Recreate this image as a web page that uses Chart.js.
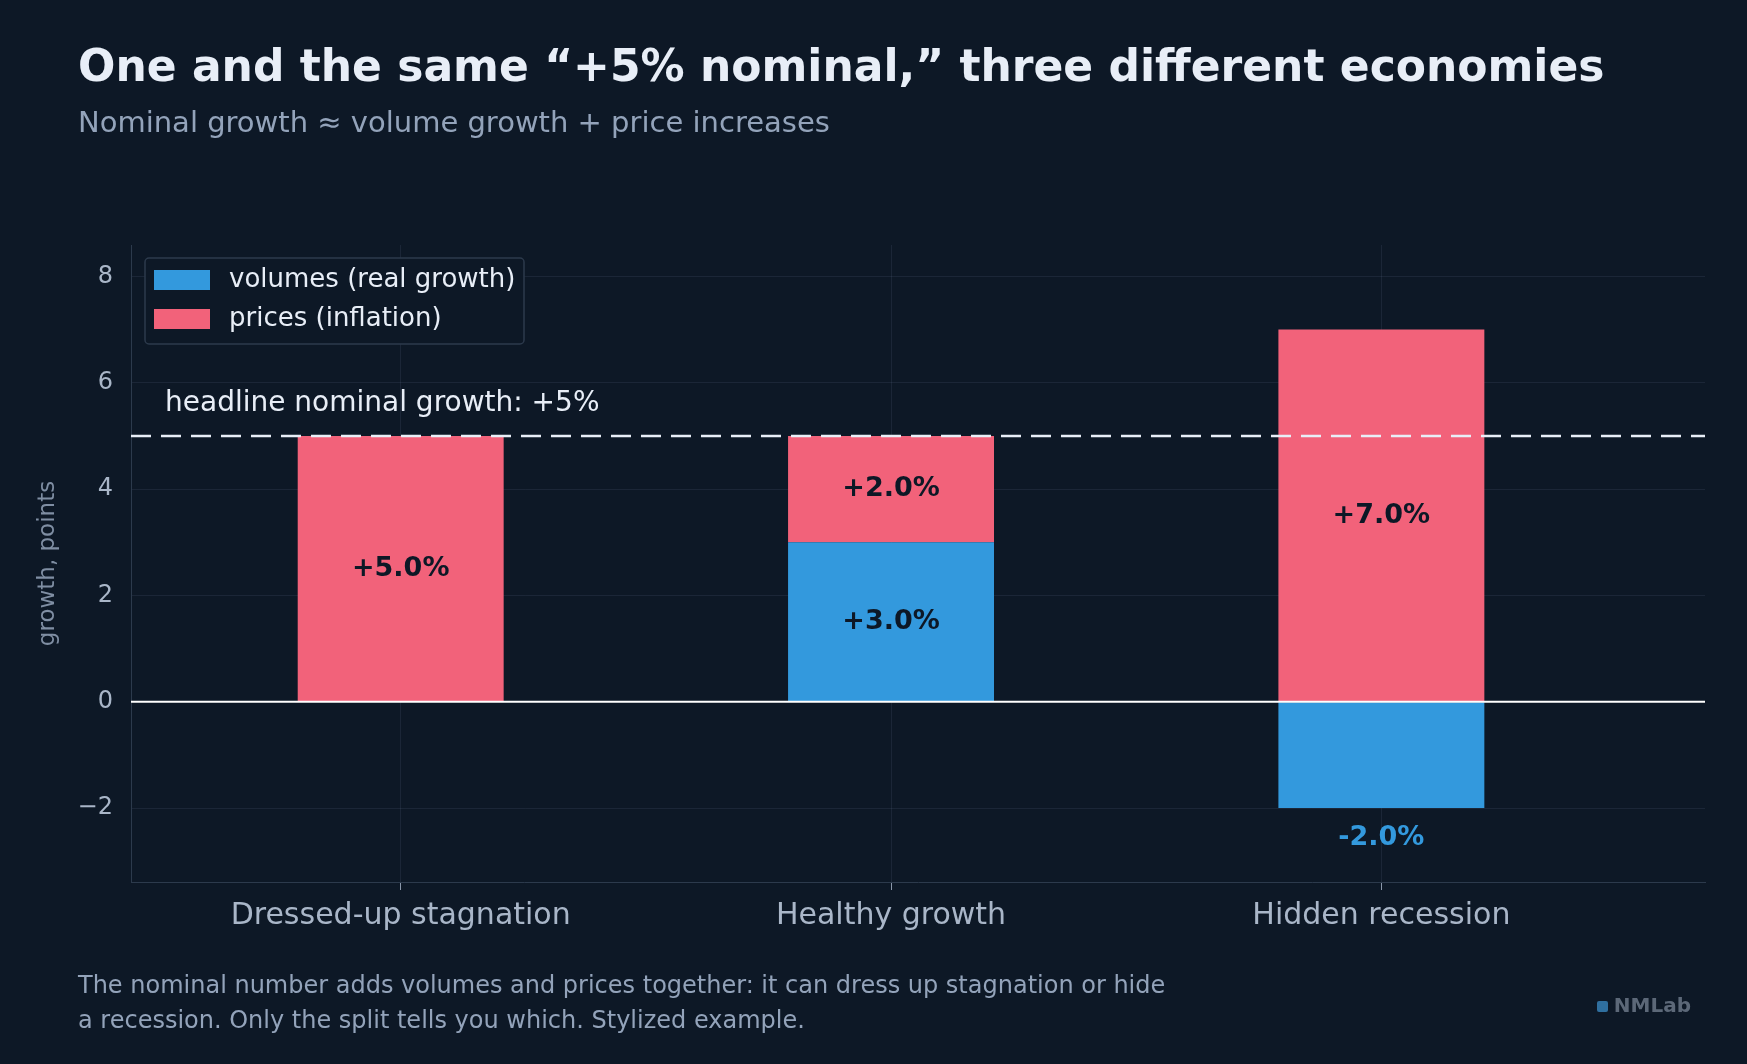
<!DOCTYPE html>
<html><head><meta charset="utf-8">
<script src="https://cdn.jsdelivr.net/npm/chart.js@4"></script>
<style>
  body{margin:0;background:#0d1826;font-family:"DejaVu Sans",sans-serif;overflow:hidden}
  #wrap{position:relative;width:1747px;height:1064px}
  canvas{position:absolute;left:0;top:0}
  .t{position:absolute;left:78px;white-space:nowrap}
  #title{top:40px;font-size:44px;font-weight:bold;color:#e8eef7}
  #sub{top:105px;font-size:29px;color:#93a3ba}
  #foot{top:968px;font-size:24px;line-height:35px;color:#93a3ba}
  #brand{position:absolute;right:56px;top:993px;font:bold 20px "DejaVu Sans";color:#5c6878}
  #brand span{display:inline-block;width:11px;height:11px;background:#2f6f9f;border-radius:2px;margin-right:6px}
</style></head><body>
<div id="wrap">
  <canvas id="c" width="1747" height="1064"></canvas>
  <div class="t" id="title">One and the same “+5% nominal,” three different economies</div>
  <div class="t" id="sub">Nominal growth ≈ volume growth + price increases</div>
  <div class="t" id="foot">The nominal number adds volumes and prices together: it can dress up stagnation or hide<br>a recession. Only the split tells you which. Stylized example.</div>
  <div id="brand"><span></span>NMLab</div>
</div>
<script>
const categories = ['Dressed-up stagnation', 'Healthy growth', 'Hidden recession'];
const volumes = [0, 3, -2];
const prices = [5, 2, 7];
const headline = 5;
const yTicks = [-2, 0, 2, 4, 6, 8];

const BLUE = '#3399dd', RED = '#f2627a';
const fmt = v => (v > 0 ? '+' : '') + v.toFixed(1) + '%';

const overlay = {
  id: 'overlay',
  afterDatasetsDraw(chart) {
    const { ctx, chartArea: a, scales: { x, y } } = chart;
    ctx.save();
    ctx.strokeStyle = '#ffffff'; ctx.lineWidth = 2.2;
    ctx.beginPath(); ctx.moveTo(a.left, y.getPixelForValue(0)); ctx.lineTo(a.right, y.getPixelForValue(0)); ctx.stroke();
    const hy = y.getPixelForValue(headline);
    ctx.strokeStyle = '#e8eef7'; ctx.lineWidth = 2.5; ctx.setLineDash([20, 10]);
    ctx.beginPath(); ctx.moveTo(a.left, hy); ctx.lineTo(a.right, hy); ctx.stroke();
    ctx.setLineDash([]);
    ctx.fillStyle = '#e8eef7'; ctx.font = '28px "DejaVu Sans"';
    ctx.textAlign = 'left'; ctx.textBaseline = 'middle';
    ctx.fillText('headline nominal growth: +5%', 165, y.getPixelForValue(5.6));
    ctx.font = 'bold 27px "DejaVu Sans"'; ctx.textAlign = 'center';
    categories.forEach((c, i) => {
      const cx = x.getPixelForValue(i);
      const v = volumes[i], p = prices[i];
      ctx.fillStyle = '#0d1826';
      if (v > 0) {
        ctx.fillText(fmt(v), cx, y.getPixelForValue(v / 2));
        ctx.fillText(fmt(p), cx, y.getPixelForValue(v + p / 2));
      } else {
        ctx.fillText(fmt(p), cx, y.getPixelForValue(p / 2));
        if (v < 0) { ctx.fillStyle = BLUE; ctx.fillText(fmt(v), cx, y.getPixelForValue(v) + 30); }
      }
    });
    // y title
    ctx.save();
    ctx.translate(48, y.getPixelForValue(2.6)); ctx.rotate(-Math.PI / 2);
    ctx.fillStyle = '#7f8ea3'; ctx.font = '23px "DejaVu Sans"';
    ctx.fillText('growth, points', 0, 0);
    ctx.restore();
    // legend
    ctx.fillStyle = '#0d1826'; ctx.strokeStyle = '#2c3a4c'; ctx.lineWidth = 1.5;
    ctx.beginPath(); ctx.roundRect(145, 258, 379, 86, 4); ctx.fill(); ctx.stroke();
    [[BLUE, 'volumes (real growth)', 280], [RED, 'prices (inflation)', 319]].forEach(([col, t, ly]) => {
      ctx.fillStyle = col; ctx.fillRect(154, ly - 10, 56, 20);
      ctx.fillStyle = '#e8eef7'; ctx.font = '26px "DejaVu Sans"'; ctx.textAlign = 'left';
      ctx.fillText(t, 229, ly);
    });
    ctx.restore();
  }
};

const pts = arr => arr.map((v, i) => ({ x: i, y: v }));

new Chart(document.getElementById('c'), {
  type: 'bar',
  data: {
    datasets: [
      { label: 'volumes (real growth)', data: pts(volumes), backgroundColor: BLUE, categoryPercentage: 1, barPercentage: 0.42 },
      { label: 'prices (inflation)', data: pts(prices), backgroundColor: RED, categoryPercentage: 1, barPercentage: 0.42 }
    ]
  },
  options: {
    responsive: false, animation: false,
    layout: { padding: { top: 245, right: 42, left: 0, bottom: 0 } },
    plugins: { legend: { display: false }, tooltip: { enabled: false } },
    scales: {
      x: {
        type: 'linear', stacked: true, min: -0.55, max: 2.66, offset: false,
        afterFit: s => { s.height = 182; },
        afterBuildTicks: s => { s.ticks = categories.map((c, i) => ({ value: i })); },
        grid: { color: 'rgba(120,140,170,0.13)', tickColor: '#8a97aa', tickLength: 8, offset: false },
        border: { color: '#2c3a4c' },
        ticks: { color: '#a9b6c8', font: { size: 30, family: 'DejaVu Sans' }, padding: 8,
                 callback: v => categories[v] }
      },
      y: {
        stacked: true, min: -3.39, max: 8.59,
        afterFit: s => { s.width = 131; },
        afterBuildTicks: s => { s.ticks = yTicks.map(v => ({ value: v })); },
        grid: { color: 'rgba(120,140,170,0.13)', drawTicks: false },
        border: { color: '#2c3a4c' },
        ticks: { color: '#a9b6c8', font: { size: 24, family: 'DejaVu Sans' }, padding: 18,
                 callback: v => String(v).replace('-', '−') }
      }
    }
  },
  plugins: [overlay]
});
</script>
</body></html>
